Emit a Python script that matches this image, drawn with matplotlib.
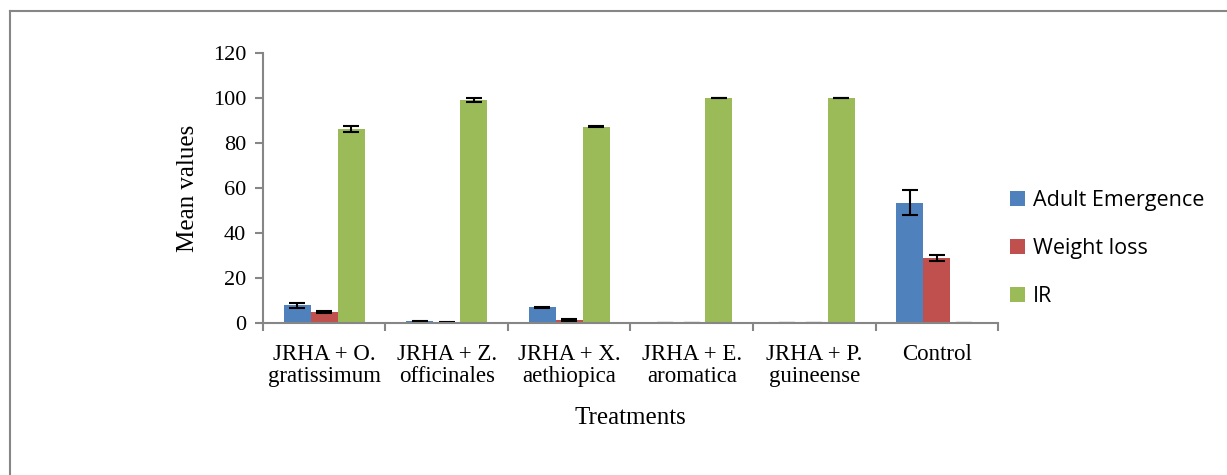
import matplotlib.pyplot as plt
import numpy as np
from matplotlib.lines import Line2D

# Data
treatments = ["JRHA + O.\ngratissimum", "JRHA + Z.\nofficinales", "JRHA + X.\naethiopica",
              "JRHA + E.\naromatica", "JRHA + P.\nguineense", "Control"]
adult_emergence = [7.8, 0.7, 6.9, 0.0, 0.0, 53.5]
adult_err = [1.0, 0.3, 0.3, 0.0, 0.0, 5.7]
weight_loss = [5.0, 0.3, 1.3, 0.0, 0.0, 29.0]
weight_err = [0.4, 0.1, 0.3, 0.0, 0.0, 1.4]
ir = [86.2, 99.1, 87.3, 100.0, 100.0, 0.0]
ir_err = [1.4, 0.7, 0.3, 0.2, 0.2, 0.0]

plt.rcParams['font.family'] = ['Liberation Serif']

fig = plt.figure(figsize=(12.27, 4.75), dpi=100)
ax = fig.add_axes([0.2143, 0.32, 0.5991, 0.5684])

x = np.arange(len(treatments))
w = 0.22
ekw = dict(ecolor="black", capsize=6, elinewidth=1.5, capthick=1.5)
ax.bar(x - w, adult_emergence, w, yerr=adult_err, color="#4f81bd", label="Adult Emergence",
       error_kw=ekw, linewidth=0)
ax.bar(x, weight_loss, w, yerr=weight_err, color="#c0504d", label="Weight loss",
       error_kw=ekw, linewidth=0)
ax.bar(x + w, ir, w, yerr=ir_err, color="#9bbb59", label="IR",
       error_kw=ekw, linewidth=0)

ax.set_xlim(-0.5, len(treatments) - 0.5)
ax.set_ylim(0, 120)
ax.set_yticks(range(0, 121, 20))
ax.set_xticks(np.arange(-0.5, len(treatments), 1.0))
ax.set_xticklabels([])
ax.set_xticks(x, minor=True)
ax.set_xticklabels(treatments, minor=True, fontsize=16.5, linespacing=1.05)
ax.tick_params(axis="x", which="minor", length=0, pad=15)
ax.tick_params(axis="x", which="major", length=6, color="#868686", width=1.5)
ax.tick_params(axis="y", length=6, color="#868686", width=1.5, labelsize=16, pad=6)

for s in ["top", "right"]:
    ax.spines[s].set_visible(False)
for s in ["left", "bottom"]:
    ax.spines[s].set_color("#868686")
    ax.spines[s].set_linewidth(1.5)

ax.set_ylabel("Mean values", fontsize=18, labelpad=10)
ax.set_xlabel("Treatments", fontsize=18, labelpad=15)

fig.legend(loc="center left", bbox_to_anchor=(0.807, 0.476), frameon=False,
           prop={"family": "Open Sans", "size": 15.5}, handlelength=0.7, handleheight=0.7,
           labelspacing=1.25, handletextpad=0.4)

# outer frame (top and left edges only visible)
fig.add_artist(Line2D([10 / 1227, 1.0], [1 - 11 / 475, 1 - 11 / 475], transform=fig.transFigure,
                      color="#868686", linewidth=1.5))
fig.add_artist(Line2D([10 / 1227, 10 / 1227], [0.0, 1 - 11 / 475], transform=fig.transFigure,
                      color="#868686", linewidth=1.5))

fig.savefig("out.png", dpi=100)
